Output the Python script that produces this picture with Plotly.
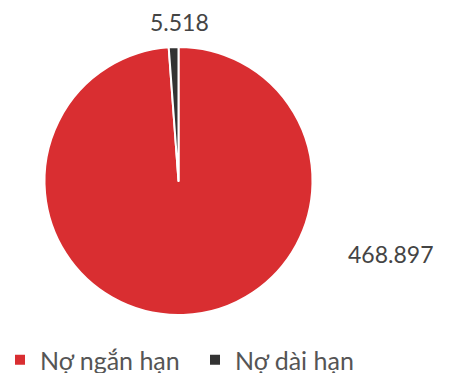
import plotly.graph_objects as go

categories = ["Nợ ngắn hạn", "Nợ dài hạn"]
values = [468.897, 5.518]
value_labels = ["468.897", "5.518"]
colors = ["#D92E31", "#333333"]

W, H = 468, 373
cx, cy, r = 178.5, 181, 134

fig = go.Figure()
fig.add_trace(go.Pie(
    labels=categories,
    values=values,
    sort=False,
    direction="clockwise",
    rotation=0,
    textinfo="none",
    hoverinfo="label+value",
    marker=dict(colors=colors, line=dict(color="white", width=2)),
    domain=dict(x=[(cx - r) / W, (cx + r) / W], y=[1 - (cy + r) / H, 1 - (cy - r) / H]),
))

label_pos = [(390, 254), (179, 22)]
for txt, (x, y) in zip(value_labels, label_pos):
    fig.add_annotation(x=x / W, y=1 - y / H, xref="paper", yref="paper",
                       xanchor="center", yanchor="middle",
                       text=txt, showarrow=False,
                       font=dict(size=23, color="#444444", family="Lato"))

fig.update_layout(
    width=W, height=H,
    margin=dict(l=0, r=0, t=0, b=0, autoexpand=False),
    paper_bgcolor="white", plot_bgcolor="white",
    font=dict(family="Lato", color="#555555", size=24),
    showlegend=True,
    legend=dict(orientation="h", x=0.0, y=1 - 360 / H, xanchor="left", yanchor="middle",
                font=dict(size=25, color="#555555"), itemwidth=30,
                entrywidth=150, entrywidthmode="pixels"),
)
fig.write_html("out.html")
